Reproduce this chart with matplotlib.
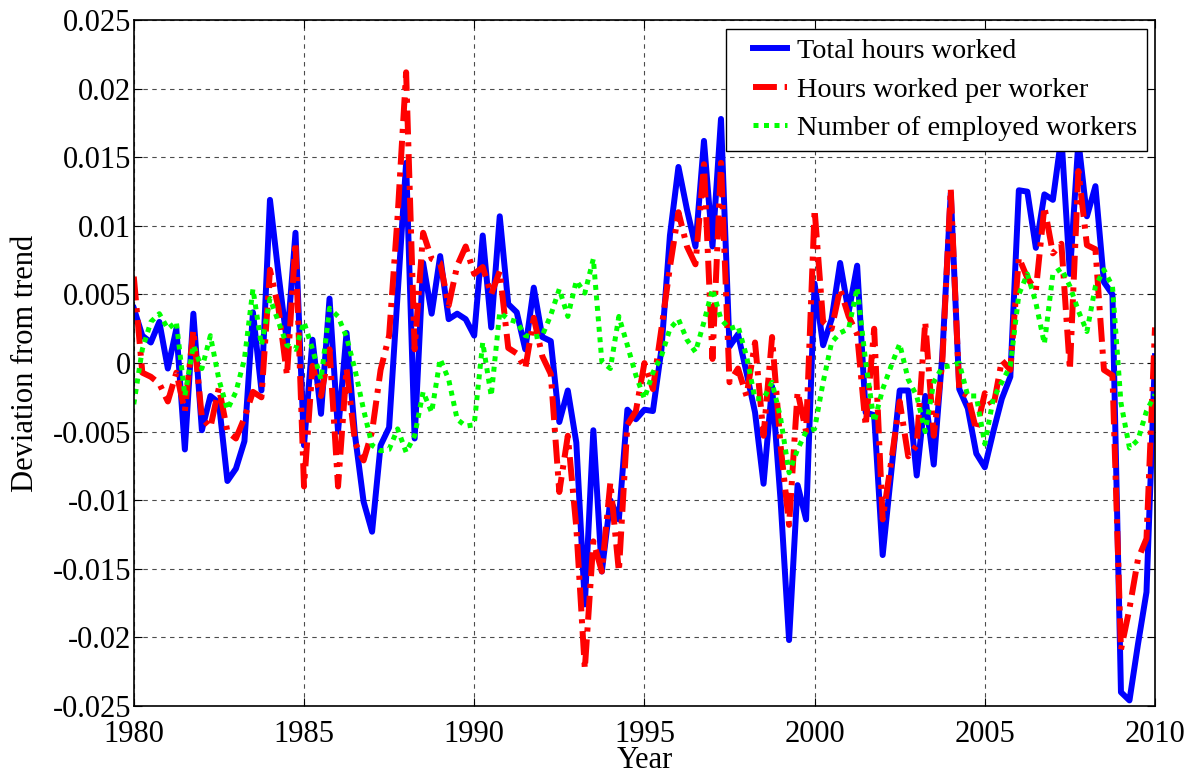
"""
Cyclical components of hours: total, per worker and employment (1980-2010).
"""
import numpy as np
import matplotlib

matplotlib.use("Agg")
import matplotlib.pyplot as plt
from matplotlib.ticker import FuncFormatter
from matplotlib.legend_handler import HandlerLine2D

# quarterly observations, 1980Q1 .. 2010Q1
years = np.arange(1980, 2010.01, 0.25)

total_hours = [
    0.0040, 0.0020, 0.0015, 0.0030,
    -0.0004, 0.0025, -0.0063, 0.0036,
    -0.0049, -0.0024, -0.0029, -0.0086,
    -0.0077, -0.0057, 0.0037, -0.0020,
    0.0119, 0.0065, 0.0015, 0.0095,
    -0.0060, 0.0017, -0.0037, 0.0047,
    -0.0050, 0.0022, -0.0053, -0.0101,
    -0.0123, -0.0060, -0.0047, 0.0050,
    0.0146, -0.0055, 0.0073, 0.0036,
    0.0078, 0.0032, 0.0036, 0.0032,
    0.0020, 0.0093, 0.0026, 0.0107,
    0.0043, 0.0037, 0.0010, 0.0055,
    0.0019, 0.0016, -0.0043, -0.0020,
    -0.0058, -0.0176, -0.0049, -0.0152,
    -0.0100, -0.0114, -0.0034, -0.0041,
    -0.0034, -0.0035, 0.0010, 0.0093,
    0.0143, 0.0112, 0.0085, 0.0162,
    0.0085, 0.0178, 0.0012, 0.0021,
    -0.0007, -0.0036, -0.0088, -0.0017,
    -0.0100, -0.0202, -0.0089, -0.0114,
    0.0058, 0.0013, 0.0032, 0.0073,
    0.0037, 0.0071, -0.0036, -0.0038,
    -0.0140, -0.0080, -0.0020, -0.0020,
    -0.0082, -0.0024, -0.0074, 0.0005,
    0.0124, -0.0019, -0.0033, -0.0066,
    -0.0076, -0.0050, -0.0026, -0.0010,
    0.0126, 0.0125, 0.0084, 0.0123,
    0.0119, 0.0165, 0.0065, 0.0162,
    0.0107, 0.0129, 0.0059, 0.0050,
    -0.0240, -0.0246, -0.0205, -0.0167,
    0.0005,
]

hours_per_worker = [
    0.0063, -0.0007, -0.0010, -0.0015,
    -0.0028, -0.0007, -0.0035, 0.0024,
    -0.0040, -0.0047, -0.0018, -0.0050,
    -0.0055, -0.0040, -0.0021, -0.0025,
    0.0068, 0.0040, -0.0009, 0.0088,
    -0.0090, -0.0002, -0.0024, 0.0010,
    -0.0090, -0.0004, -0.0058, -0.0071,
    -0.0050, -0.0005, 0.0020, 0.0107,
    0.0212, 0.0010, 0.0095, 0.0076,
    0.0073, 0.0042, 0.0071, 0.0085,
    0.0065, 0.0070, 0.0050, 0.0067,
    0.0011, 0.0007, -0.0004, 0.0033,
    0.0005, -0.0008, -0.0094, -0.0053,
    -0.0120, -0.0223, -0.0130, -0.0152,
    -0.0087, -0.0152, -0.0045, -0.0035,
    0.0000, -0.0019, 0.0025, 0.0070,
    0.0110, 0.0085, 0.0072, 0.0145,
    0.0003, 0.0146, -0.0014, -0.0004,
    -0.0024, 0.0015, -0.0053, 0.0019,
    -0.0060, -0.0118, -0.0021, -0.0050,
    0.0112, 0.0030, 0.0025, 0.0054,
    0.0034, 0.0021, -0.0046, 0.0025,
    -0.0114, -0.0072, -0.0028, -0.0068,
    -0.0060, 0.0030, -0.0053, 0.0000,
    0.0127, -0.0020, -0.0024, -0.0049,
    -0.0022, -0.0032, 0.0002, -0.0005,
    0.0077, 0.0062, 0.0053, 0.0114,
    0.0080, 0.0087, -0.0005, 0.0140,
    0.0086, 0.0083, -0.0005, -0.0009,
    -0.0209, -0.0179, -0.0143, -0.0128,
    0.0026,
]

employed_workers = [
    -0.0030, 0.0010, 0.0030, 0.0036,
    0.0025, 0.0030, -0.0024, 0.0013,
    -0.0004, 0.0020, -0.0012, -0.0034,
    -0.0021, 0.0003, 0.0054, 0.0013,
    0.0047, 0.0030, 0.0013, 0.0010,
    0.0030, 0.0010, -0.0012, 0.0040,
    0.0034, 0.0019, -0.0005, -0.0034,
    -0.0060, -0.0064, -0.0063, -0.0048,
    -0.0065, -0.0053, -0.0021, -0.0036,
    0.0003, -0.0012, -0.0041, -0.0046,
    -0.0045, 0.0015, -0.0024, 0.0037,
    0.0032, 0.0030, 0.0020, 0.0019,
    0.0020, 0.0035, 0.0054, 0.0034,
    0.0060, 0.0051, 0.0076, 0.0001,
    -0.0004, 0.0034, 0.0013, -0.0009,
    -0.0026, -0.0007, 0.0005, 0.0025,
    0.0032, 0.0017, 0.0008, 0.0030,
    0.0054, 0.0032, 0.0025, 0.0027,
    0.0005, -0.0026, -0.0026, -0.0014,
    -0.0040, -0.0080, -0.0063, -0.0050,
    -0.0048, -0.0014, 0.0015, 0.0022,
    0.0025, 0.0055, 0.0001, -0.0043,
    -0.0019, -0.0002, 0.0014, -0.0012,
    -0.0024, -0.0050, -0.0014, -0.0003,
    -0.0002, 0.0000, -0.0024, -0.0024,
    -0.0059, -0.0026, -0.0014, -0.0002,
    0.0050, 0.0065, 0.0044, 0.0014,
    0.0065, 0.0069, 0.0056, 0.0038,
    0.0023, 0.0056, 0.0068, 0.0056,
    -0.0029, -0.0062, -0.0056, -0.0035,
    -0.0023,
]

xticks = [1980, 1985, 1990, 1995, 2000, 2005, 2010]
yticks = [-0.025, -0.02, -0.015, -0.01, -0.005, 0, 0.005, 0.01, 0.015, 0.02, 0.025]


class ShortLine(HandlerLine2D):
    # MATLAB draws a short sample at the right end of the handle box
    def __init__(self, frac=0.66, **kw):
        super().__init__(**kw)
        self.frac = frac

    def create_artists(self, legend, orig_handle, xdescent, ydescent,
                       width, height, fontsize, trans):
        w = width * self.frac
        return super().create_artists(legend, orig_handle, xdescent - (width - w),
                                      ydescent, w, height, fontsize, trans)


plt.rcParams["font.family"] = ["Liberation Serif", "DejaVu Serif"]
plt.rcParams["axes.unicode_minus"] = False

fig = plt.figure(figsize=(12, 7.77), dpi=100)
ax = fig.add_axes((0.1115, 0.0915, 0.851, 0.8825))

ax.plot(years, total_hours, color="#0000ff", lw=4.3, label="Total hours worked")
ax.plot(years, hours_per_worker, color="#ff0000", lw=4.3,
        linestyle=(0, (4, 1.3, 0.7, 1.3)), label="Hours worked per worker")
ax.plot(years, employed_workers, color="#00ff00", lw=3.6,
        linestyle=(0, (1, 1.1)), label="Number of employed workers")

ax.set_xlim(1980, 2010)
ax.set_ylim(-0.025, 0.025)
ax.set_xticks(xticks)
ax.set_yticks(yticks)
ax.yaxis.set_major_formatter(FuncFormatter(lambda v, p: "%g" % round(v, 3)))

ax.grid(True, color="black", linestyle=(0, (4, 4)), linewidth=0.8, alpha=0.7)
ax.tick_params(direction="in", top=True, right=True, length=6, width=0.8,
               labelsize=22)
ax.tick_params(axis="x", pad=10)
ax.tick_params(axis="y", pad=2)
for s in ax.spines.values():
    s.set_linewidth(1.2)

ax.set_xlabel("Year", fontsize=22, labelpad=-2)
ax.set_ylabel("Deviation from trend", fontsize=22, labelpad=9)

leg = ax.legend(loc="upper right", fontsize=20.3, fancybox=False, framealpha=1,
                edgecolor="black", handlelength=1.8, borderaxespad=0.3,
                borderpad=0.35, handletextpad=0.35, labelspacing=0.45,
                handler_map={matplotlib.lines.Line2D: ShortLine()})
leg.get_frame().set_linewidth(1.0)

fig.savefig("out.png", dpi=100)
